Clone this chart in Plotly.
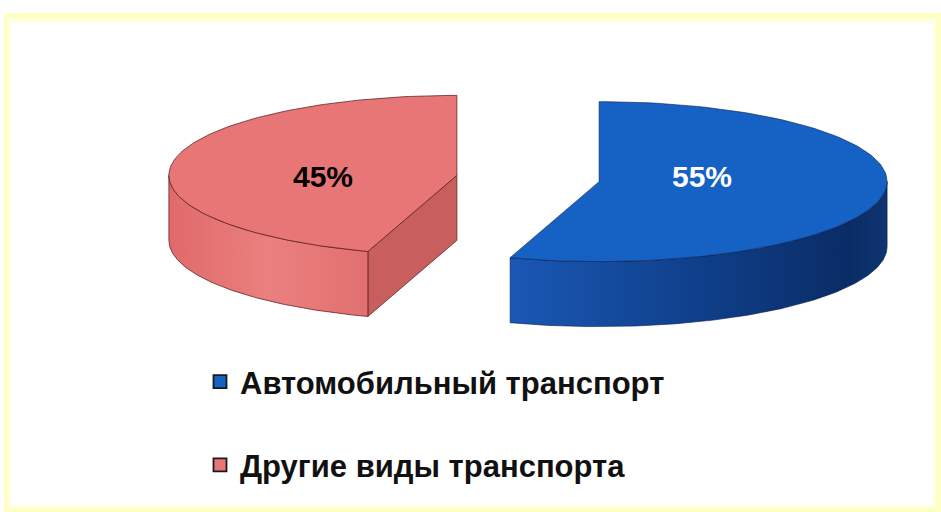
import numpy as np
import plotly.graph_objects as go

# ---------------- data ----------------
categories = ["Автомобильный транспорт", "Другие виды транспорта"]
values = [55, 45]
pct_labels = ["55%", "45%"]

# ---------------- style ----------------
W, Hpx = 941, 512
top_colors = ["#1662C4", "#E97676"]
wall_scales = [
    [[0, "#1A58B4"], [0.5, "#0F3F8A"], [0.9, "#0A2C66"], [1, "#0E3570"]],
    [[0, "#E06A6A"], [0.5, "#EB7F7F"], [1, "#E27070"]],
]
cut_colors = ["#0E3E86", "#C95E5E"]
edge_colors = ["rgba(10,30,80,0.6)", "rgba(90,30,30,0.75)"]
label_colors = ["white", "black"]
label_frac = [0.36, 0.47]
label_dy = [-10, 7]

CX, CY = 528, 178.5   # base centre in px
A, B = 288, 80        # ellipse semi-axes
DEPTH = 65            # thickness
PULL = 0.25


def rim(cx, cy, t):
    r = np.radians(t)
    return cx + A * np.sin(r), cy - B * np.cos(r)


def arc(cx, cy, t0, t1, n=120):
    ts = np.linspace(t0, t1, n)
    r = np.radians(ts)
    return cx + A * np.sin(r), cy - B * np.cos(r)


total = sum(values)
slices = []
acc = 0.0
for i, v in enumerate(values):
    t0 = acc / total * 360
    t1 = (acc + v) / total * 360
    acc += v
    mid = (t0 + t1) / 2
    cx = CX + PULL * A * np.sin(np.radians(mid))
    cy = CY - PULL * B * np.cos(np.radians(mid))
    slices.append(dict(i=i, t0=t0, t1=t1, mid=mid, cx=cx, cy=cy))

fig = go.Figure()

# draw back slices first
for s in sorted(slices, key=lambda d: d["cy"]):
    i, t0, t1, cx, cy = s["i"], s["t0"], s["t1"], s["cx"], s["cy"]
    # cut faces
    for t, n in ((t0, t0 - 90), (t1, t1 + 90)):
        if np.cos(np.radians(n)) < -1e-6:
            rx, ry = rim(cx, cy, t)
            fig.add_trace(go.Scatter(
                x=[cx, rx, rx, cx, cx], y=[cy, ry, ry + DEPTH, cy + DEPTH, cy],
                fill="toself", fillcolor=cut_colors[i], mode="lines",
                line=dict(color=edge_colors[i], width=1), hoverinfo="skip",
                showlegend=False))
    # outer wall (front part only)
    a0, a1 = max(t0, 90), min(t1, 270)
    if a1 > a0:
        ax, ay = arc(cx, cy, a0, a1)
        xs = np.concatenate([ax, ax[::-1], ax[:1]])
        ys = np.concatenate([ay, ay[::-1] + DEPTH, ay[:1]])
        fig.add_trace(go.Scatter(
            x=xs, y=ys, fill="toself", mode="lines",
            fillgradient=dict(type="horizontal", colorscale=wall_scales[i]),
            line=dict(color=edge_colors[i], width=1), hoverinfo="skip",
            showlegend=False))
    # top face
    ax, ay = arc(cx, cy, t0, t1)
    xs = np.concatenate([[cx], ax, [cx]])
    ys = np.concatenate([[cy], ay, [cy]])
    fig.add_trace(go.Scatter(
        x=xs, y=ys, fill="toself", fillcolor=top_colors[i], mode="lines",
        line=dict(color=edge_colors[i], width=1), hoverinfo="skip",
        showlegend=False))

# percentage labels
annotations = []
for s in slices:
    i = s["i"]
    lx = s["cx"] + label_frac[i] * A * np.sin(np.radians(s["mid"]))
    ly = s["cy"] - label_frac[i] * B * np.cos(np.radians(s["mid"])) + label_dy[i]
    annotations.append(dict(
        x=lx, y=ly, xref="x", yref="y", text=pct_labels[i], showarrow=False,
        font=dict(family="Liberation Sans, Arial", size=30, color=label_colors[i],
                  weight="bold")))

# legend entries
for i, name in enumerate(categories):
    fig.add_trace(go.Scatter(
        x=[None], y=[None], mode="markers", name=name, legendgroup=str(i),
        marker=dict(symbol="square", size=13, color=top_colors[i],
                    line=dict(color="#1a1a1a", width=1.8))))

shapes = [
    dict(type="rect", xref="x", yref="y", x0=4, y0=13, x1=950, y1=520,
         fillcolor="#FFFFC4", line=dict(width=0), layer="below"),
    dict(type="rect", xref="x", yref="y", x0=8, y0=18, x1=936, y1=508,
         fillcolor="#FFFFE2", line=dict(width=0), layer="below"),
    dict(type="rect", xref="x", yref="y", x0=11, y0=23, x1=933, y1=505,
         fillcolor="#FFFFFF", line=dict(width=0), layer="below"),
]

fig.update_layout(
    width=W, height=Hpx,
    margin=dict(l=0, r=0, t=0, b=0),
    paper_bgcolor="white", plot_bgcolor="white",
    xaxis=dict(range=[0, W], visible=False, fixedrange=True),
    yaxis=dict(range=[Hpx, 0], visible=False, fixedrange=True),
    shapes=shapes,
    annotations=annotations,
    showlegend=True,
    legend=dict(
        x=200 / W, y=1 - 355 / Hpx, xanchor="left", yanchor="top",
        traceorder="grouped", tracegroupgap=40,
        font=dict(family="Liberation Sans, Arial", size=31, color="#111",
                  weight="bold"),
        bgcolor="rgba(0,0,0,0)", borderwidth=0,
    ),
)

fig.write_html("out.html")
